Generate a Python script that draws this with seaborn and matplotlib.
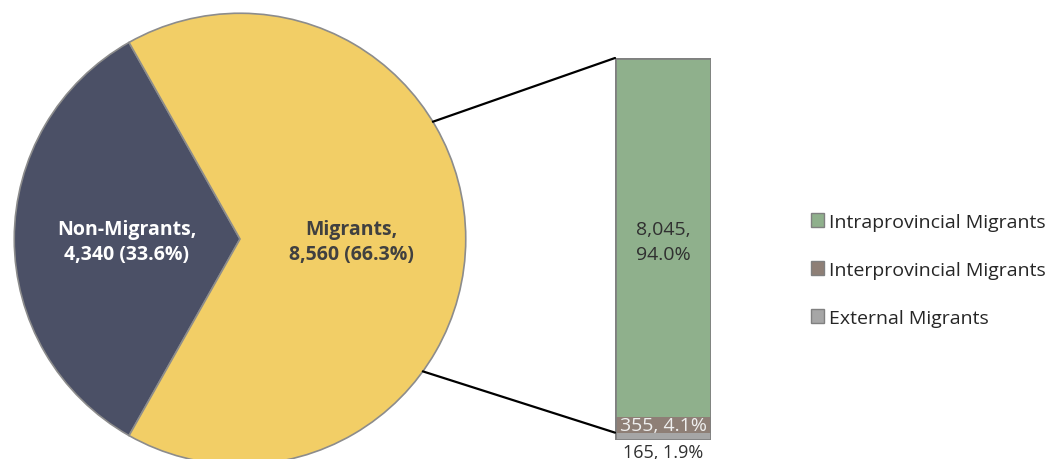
import matplotlib
matplotlib.use('Agg')
import matplotlib.pyplot as plt
import seaborn as sns
import pandas as pd
import numpy as np
from matplotlib.patches import Patch, ConnectionPatch

# данные: пирог
pie_labels = ['Non-Migrants', 'Migrants']
pie_values = [4340, 8560]
pie_pct = [33.6, 66.3]
pie_colors = ['#4B5066', '#F2CE66']

# данные: столбец мигрантов
bar_labels = ['Intraprovincial Migrants', 'Interprovincial Migrants', 'External Migrants']
bar_values = [8045, 355, 165]
bar_pct = [94.0, 4.1, 1.9]
bar_colors = ['#8FB08C', '#8E7F76', '#A6A6A6']

sns.set_style('white')
plt.rcParams['font.family'] = ['Open Sans', 'DejaVu Sans']

fig = plt.figure(figsize=(10.5, 4.6), dpi=100)
W, H = 1050, 460

# пирог
ax_pie = fig.add_axes([12 / W, (H - 468) / H, 456 / W, 456 / H])
share = pie_values[0] / sum(pie_values) * 360
wedges, _ = ax_pie.pie(pie_values, colors=pie_colors, startangle=180 - share / 2,
                       counterclock=True, radius=1,
                       wedgeprops=dict(edgecolor='#8C8C8C', linewidth=1.2))
ax_pie.set_xlim(-1.01, 1.01)
ax_pie.set_ylim(-1.01, 1.01)
ax_pie.set_aspect('equal')
ax_pie.axis('off')
ax_pie.text(-0.501, -0.01, f'{pie_labels[0]},\n{pie_values[0]:,} ({pie_pct[0]}%)', ha='center', va='center',
            color='white', fontsize=14, fontweight='bold', linespacing=1.3)
ax_pie.text(0.492, -0.01, f'{pie_labels[1]},\n{pie_values[1]:,} ({pie_pct[1]}%)', ha='center', va='center',
            color='#404040', fontsize=14, fontweight='bold', linespacing=1.3)

# столбец (накопленные суммы, рисуем сверху вниз)
total = sum(bar_values)
cum = np.cumsum(bar_values[::-1])[::-1]
ax_bar = fig.add_axes([615 / W, (H - 441) / H, 96 / W, 382 / H])
for c, col in zip(cum, bar_colors):
    df = pd.DataFrame({'x': ['m'], 'y': [c]})
    sns.barplot(data=df, x='x', y='y', color=col, width=1, saturation=1, linewidth=0, ax=ax_bar)
ax_bar.bar(0, total, width=1, fill=False, edgecolor='#808080', linewidth=2, zorder=5)
ax_bar.set_xlim(-0.5, 0.5)
ax_bar.set_ylim(0, total)
ax_bar.axis('off')

ax_bar.text(0, cum[1] + bar_values[0] / 2 - 100, f'{bar_values[0]:,},\n{bar_pct[0]}%', ha='center', va='center',
            color='#303030', fontsize=14, linespacing=1.5)
ax_bar.text(0, cum[2] + bar_values[1] / 2, f'{bar_values[1]}, {bar_pct[1]}%', ha='center', va='center',
            color='#EFEFEF', fontsize=14)
ax_bar.text(0, -60, f'{bar_values[2]}, {bar_pct[2]}%', ha='center', va='top',
            color='#303030', fontsize=13, clip_on=False)

# линии-связки
for ang, yv in [(31.3, total), (-35.9, cum[2])]:
    a = np.deg2rad(ang)
    con = ConnectionPatch(xyA=(np.cos(a), np.sin(a)), coordsA=ax_pie.transData,
                          xyB=(-0.5, yv), coordsB=ax_bar.transData, color='black', linewidth=1.6)
    fig.add_artist(con)

# легенда
handles = [Patch(facecolor=c, edgecolor='#808080', linewidth=1) for c in bar_colors]
fig.legend(handles, bar_labels, loc='upper left', bbox_to_anchor=(803 / W, 1 - 206 / H),
           frameon=False, fontsize=14, handlelength=0.7, handleheight=0.7, handletextpad=0.25,
           labelspacing=1.55, borderaxespad=0)

fig.savefig('out.png', dpi=100)
